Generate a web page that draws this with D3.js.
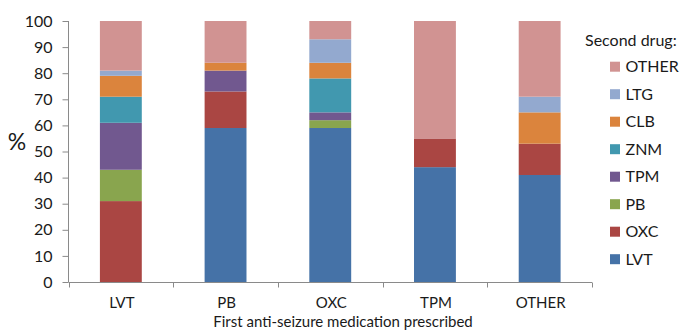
<!DOCTYPE html>
<html><head><meta charset="utf-8">
<script src="https://cdn.jsdelivr.net/npm/d3@7"></script>
<style>body{margin:0;background:#fff}svg text{font-family:Lato,"Open Sans",sans-serif;fill:#1a1a1a}</style>
</head><body><svg id="c" width="682" height="334"></svg>
<script>
const categories = ["LVT","PB","OXC","TPM","OTHER"];
const secondDrugs = ["LVT","OXC","PB","TPM","ZNM","CLB","LTG","OTHER"];
const LVT   = [0, 59, 59, 44, 41];
const OXC   = [31, 14, 0, 11, 12];
const PB    = [12, 0, 3, 0, 0];
const TPM   = [18, 8, 3, 0, 0];
const ZNM   = [10, 0, 13, 0, 0];
const CLB   = [8, 3, 6, 0, 12];
const LTG   = [2, 0, 9, 0, 6];
const OTHER = [19, 16, 7, 45, 29];
const yTicks = [0,10,20,30,40,50,60,70,80,90,100];
const colors = ["#4572A7","#AA4643","#89A54E","#71588F","#4198AF","#DB843D","#93A9CF","#D19392"];

const seriesVals = {LVT,OXC,PB,TPM,ZNM,CLB,LTG,OTHER};
const rows = categories.map((c,i)=>{const r={cat:c};secondDrugs.forEach(s=>r[s]=seriesVals[s][i]);return r;});
const stack = d3.stack().keys(secondDrugs)(rows);

const svg = d3.select("#c");
const x = d3.scaleBand().domain(categories).range([68.5,592]).paddingInner(0.6).paddingOuter(0.3);
const y = d3.scaleLinear().domain([0,100]).range([282,21]);
const color = d3.scaleOrdinal().domain(secondDrugs).range(colors);

svg.append("g").selectAll("g").data(stack).join("g").attr("fill",d=>color(d.key))
  .selectAll("rect").data(d=>d).join("rect")
  .attr("x",d=>x(d.data.cat)).attr("width",x.bandwidth())
  .attr("y",d=>y(d[1])).attr("height",d=>Math.max(0,y(d[0])-y(d[1])));

// y axis
const ya = svg.append("g").attr("transform","translate(68.5,0)")
  .call(d3.axisLeft(y).tickValues(yTicks).tickSize(6).tickPadding(10));
ya.select(".domain").attr("stroke","#8a8a8a").attr("d","M0,21V282");
ya.selectAll(".tick line").attr("stroke","#8a8a8a");
ya.selectAll(".tick text").attr("font-size","16px").style("fill","#1a1a1a");

// x axis
const step = x.step();
const xa = svg.append("g").attr("transform","translate(0,282.5)");
xa.append("line").attr("x1",68.5).attr("x2",592).attr("stroke","#8a8a8a");
const bounds = d3.range(categories.length+1).map(i=>x.range()[0]+i*step);
xa.selectAll(".tk").data(bounds).join("line").attr("class","tk")
  .attr("x1",d=>Math.round(d)+0.5).attr("x2",d=>Math.round(d)+0.5).attr("y1",0).attr("y2",5).attr("stroke","#8a8a8a");
xa.selectAll("text").data(categories).join("text")
  .attr("x",d=>x(d)+x.bandwidth()/2+1).attr("y",25.5).attr("text-anchor","middle").attr("font-size","15px").text(d=>d);

svg.append("text").attr("x",343).attr("y",327).attr("text-anchor","middle").attr("font-size","15px")
  .text("First anti-seizure medication prescribed");
svg.append("text").attr("x",17).attr("y",150).attr("text-anchor","middle").attr("font-size","23px").text("%");

// legend
const lg = svg.append("g");
lg.append("text").attr("x",585).attr("y",46).attr("font-size","16px").text("Second drug:");
const items = secondDrugs.slice().reverse();
const li = lg.selectAll(".li").data(items).join("g").attr("class","li")
  .attr("transform",(d,i)=>`translate(610,${66.7+i*27.5})`);
li.append("rect").attr("x",0).attr("y",-5).attr("width",10).attr("height",10).attr("fill",d=>color(d));
li.append("text").attr("x",15.5).attr("y",5.5).attr("font-size","16px").text(d=>d);
</script></body></html>
